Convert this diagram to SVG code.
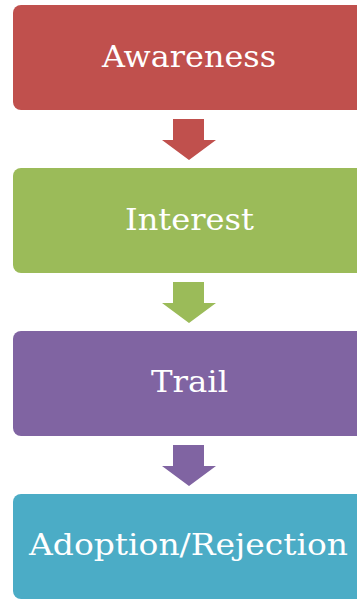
<svg xmlns="http://www.w3.org/2000/svg" width="357" height="602" viewBox="0 0 357 602">
  <style>
    .box { stroke: none; }
    .label { font-family: "DejaVu Serif", "Liberation Serif", serif; font-size: 30px; fill: #ffffff; text-anchor: middle; }
    .red { fill: #C0504D; }
    .green { fill: #9BBB59; }
    .purple { fill: #8064A2; }
    .teal { fill: #4BACC6; }
  </style>
  <defs>
    <!-- downward block arrow, origin at shaft top centre -->
    <path id="down" d="M-16 0 H15 V21 H27 L0 41 L-27 21 H-16 Z"/>
  </defs>

  <g id="node-awareness">
    <rect class="box red" x="13" y="5" width="352" height="105" rx="8"/>
    <text class="label" x="189" y="67" textLength="174" lengthAdjust="spacingAndGlyphs">Awareness</text>
  </g>
  <g id="node-interest">
    <rect class="box green" x="13" y="168" width="352" height="105" rx="8"/>
    <text class="label" x="189.5" y="230" textLength="129" lengthAdjust="spacingAndGlyphs">Interest</text>
  </g>
  <g id="node-trail">
    <rect class="box purple" x="13" y="331" width="352" height="105" rx="8"/>
    <text class="label" x="189.5" y="392" textLength="77" lengthAdjust="spacingAndGlyphs">Trail</text>
  </g>
  <g id="node-adoption">
    <rect class="box teal" x="13" y="494" width="352" height="105" rx="8"/>
    <text class="label" x="188.5" y="555" textLength="319" lengthAdjust="spacingAndGlyphs">Adoption/Rejection</text>
  </g>

  <g id="connectors">
    <use href="#down" x="189" y="119" class="red"/>
    <use href="#down" x="189" y="282" class="green"/>
    <use href="#down" x="189" y="445" class="purple"/>
  </g>
</svg>
